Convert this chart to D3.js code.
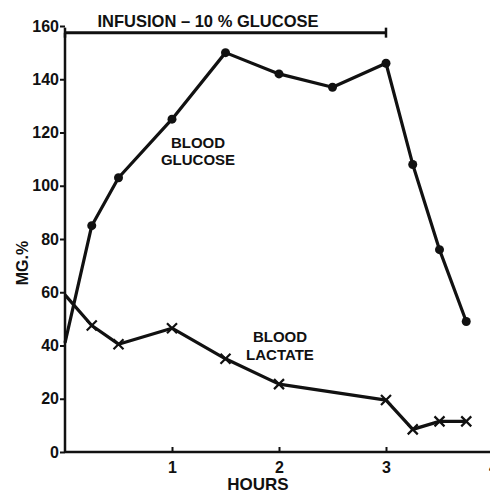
<!DOCTYPE html>
<html>
<head>
<meta charset="utf-8">
<script src="https://cdn.jsdelivr.net/npm/d3@7"></script>
<style>
  body { margin: 0; background: #fff; }
  text { font-family: "Liberation Sans", Arial, sans-serif; font-weight: bold; fill: #111; }
</style>
</head>
<body>
<div id="chart"></div>
<script>
// data
var glucoseHours = [0, 0.25, 0.5, 1, 1.5, 2, 2.5, 3, 3.25, 3.5, 3.75];
var glucoseMg = [41, 85, 103, 125, 150, 142, 137, 146, 108, 76, 49];

var lactateHours = [0, 0.25, 0.5, 1, 1.5, 2, 3, 3.25, 3.5, 3.75];
var lactateMg = [59, 47.5, 40.5, 46.5, 35, 25.5, 19.5, 8.5, 11.5, 11.5];

var xTicks = [1, 2, 3, 4];
var yTicks = [0, 20, 40, 60, 80, 100, 120, 140, 160];

var infusion = [0, 3];   // hours
var infusionLevel = 157.5;

var width = 490, height = 495;
var margin = { top: 26, right: 0, bottom: 43, left: 65 };

var x = d3.scaleLinear().domain([0, 4]).range([margin.left, margin.left + 428]);
var y = d3.scaleLinear().domain([0, 160]).range([height - margin.bottom, margin.top]);

var svg = d3.select("#chart").append("svg")
    .attr("width", width)
    .attr("height", height);

// axes
var xAxis = svg.append("g")
    .attr("transform", "translate(0," + y(0) + ")")
    .call(d3.axisBottom(x).tickValues(xTicks).tickSize(-5).tickPadding(10).tickFormat(d3.format("d")));
var yAxis = svg.append("g")
    .attr("transform", "translate(" + x(0) + ",0)")
    .call(d3.axisLeft(y).tickValues(yTicks).tickSize(5).tickPadding(1));

[xAxis, yAxis].forEach(function(a) {
  a.select(".domain").attr("stroke", "#111").attr("stroke-width", 2.5);
  a.selectAll(".tick line").attr("stroke", "#111").attr("stroke-width", 2);
  a.selectAll(".tick text").style("font-size", "16px").attr("fill", "#111");
});
yAxis.select(".domain").attr("d", "M0," + y(0) + "V" + y(infusionLevel));
xAxis.select(".domain").attr("d", "M" + x(0) + ",0H" + width);

// infusion bar
svg.append("line")
    .attr("x1", x(infusion[0])).attr("x2", x(infusion[1]))
    .attr("y1", y(infusionLevel)).attr("y2", y(infusionLevel))
    .attr("stroke", "#111").attr("stroke-width", 3);
infusion.forEach(function(h) {
  svg.append("line")
      .attr("x1", x(h)).attr("x2", x(h))
      .attr("y1", y(infusionLevel) - 5).attr("y2", y(infusionLevel) + 5)
      .attr("stroke", "#111").attr("stroke-width", 2.5);
});
svg.append("text")
    .attr("x", 208).attr("y", 27)
    .attr("text-anchor", "middle")
    .style("font-size", "16.5px")
    .text("INFUSION – 10 % GLUCOSE");

var line = d3.line()
    .x(function(d) { return x(d[0]); })
    .y(function(d) { return y(d[1]); });

var glucose = glucoseHours.map(function(h, i) { return [h, glucoseMg[i]]; });
var lactate = lactateHours.map(function(h, i) { return [h, lactateMg[i]]; });

svg.append("path").datum(glucose)
    .attr("d", line).attr("fill", "none")
    .attr("stroke", "#111").attr("stroke-width", 3.2).attr("stroke-linejoin", "round");
svg.append("path").datum(lactate)
    .attr("d", line).attr("fill", "none")
    .attr("stroke", "#111").attr("stroke-width", 3.2).attr("stroke-linejoin", "round");

svg.selectAll(".dot").data(glucose.slice(1))
  .enter().append("circle")
    .attr("cx", function(d) { return x(d[0]); })
    .attr("cy", function(d) { return y(d[1]); })
    .attr("r", 4.5)
    .attr("fill", "#111");

svg.selectAll(".cross").data(lactate.slice(1))
  .enter().append("path")
    .attr("transform", function(d) { return "translate(" + x(d[0]) + "," + y(d[1]) + ")"; })
    .attr("d", "M-5,-5L5,5M-5,5L5,-5")
    .attr("stroke", "#111").attr("stroke-width", 2.2);

// labels
function label(lines, cx, cy, dy) {
  var t = svg.append("text").attr("text-anchor", "middle").style("font-size", "15px");
  lines.forEach(function(s, i) {
    t.append("tspan").attr("x", cx).attr("y", cy + i * dy).text(s);
  });
}
label(["BLOOD", "GLUCOSE"], 198, 148, 17);
label(["BLOOD", "LACTATE"], 280, 342, 18);

svg.append("text")
    .attr("transform", "translate(28,263) rotate(-90)")
    .attr("text-anchor", "middle")
    .style("font-size", "16px")
    .text("MG.%");

svg.append("text")
    .attr("x", 258).attr("y", 490)
    .attr("text-anchor", "middle")
    .style("font-size", "17px")
    .text("HOURS");
</script>
</body>
</html>
